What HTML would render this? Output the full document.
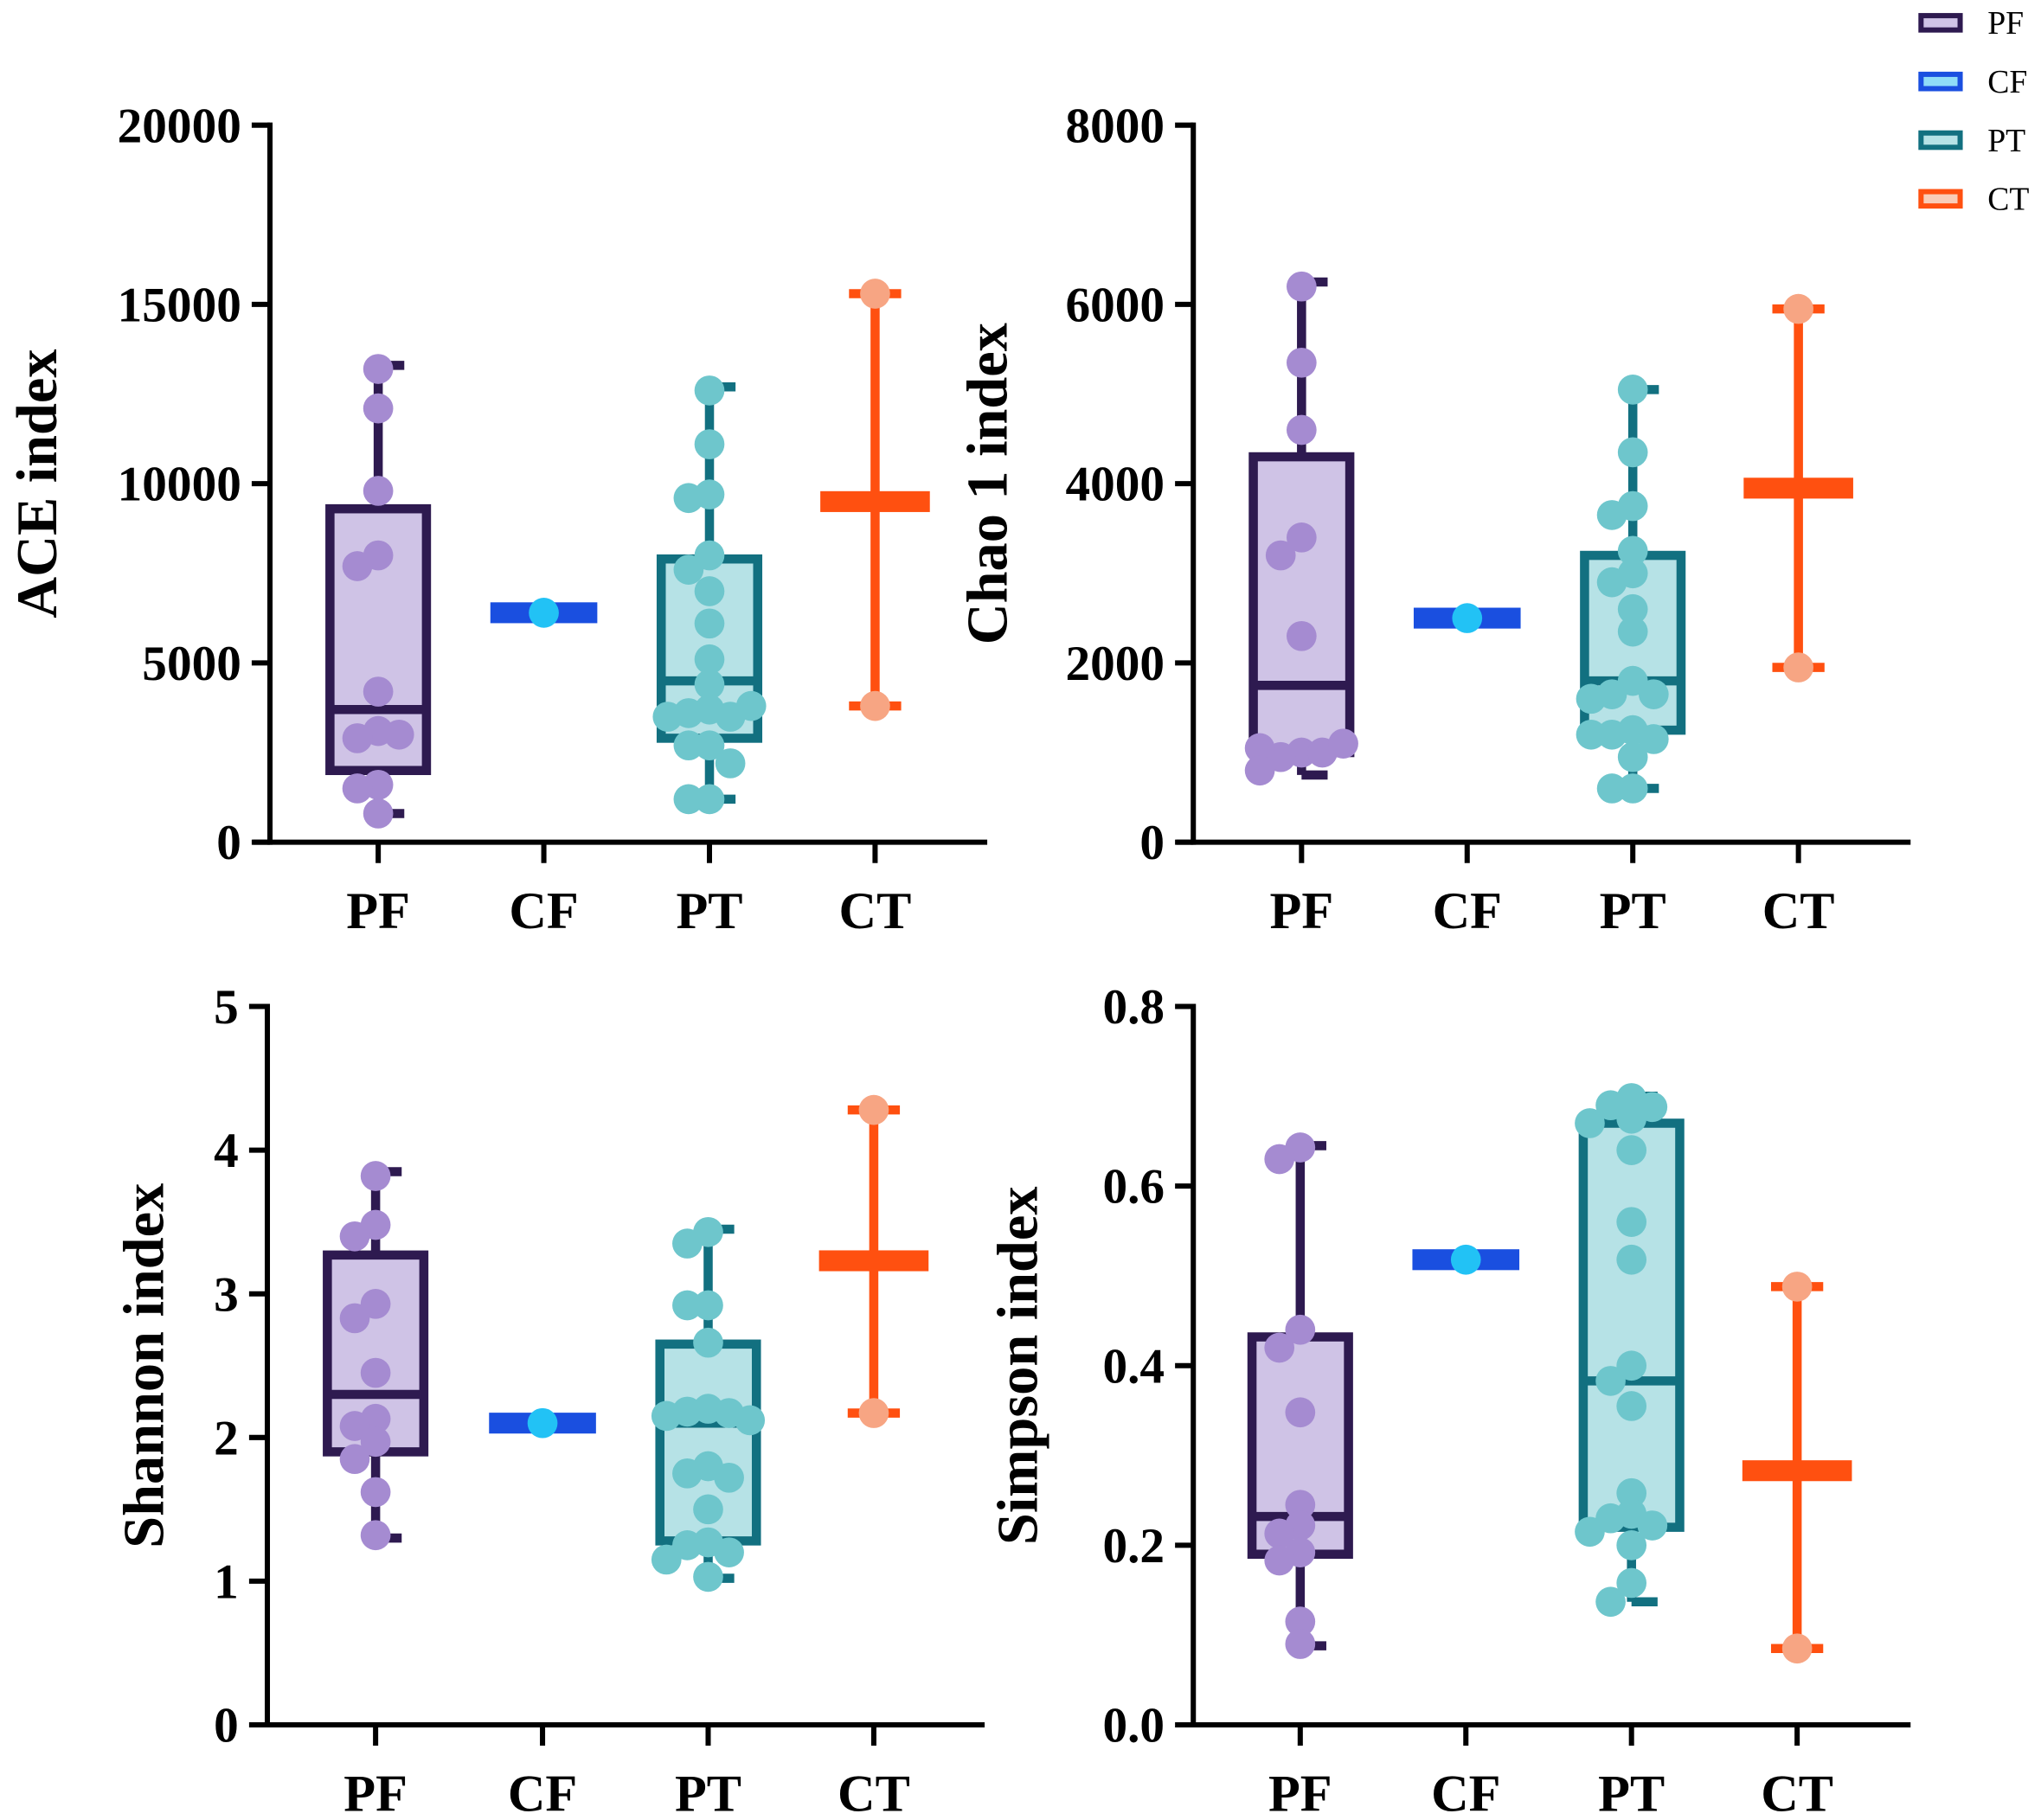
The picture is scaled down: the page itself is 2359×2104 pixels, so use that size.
<!DOCTYPE html>
<html><head><meta charset="utf-8"><style>
html,body{margin:0;padding:0;background:#fff;}
svg{display:block;}
text{font-family:"Liberation Serif","Times New Roman",serif;}
</style></head><body>
<svg id="chart" width="2359" height="2104" viewBox="0 0 1565 1396" preserveAspectRatio="none" xmlns="http://www.w3.org/2000/svg" font-family="Liberation Serif, serif">
<g id="legend"></g>
</svg>
<script>
// ---- data ----
const categories = ["PF","CF","PT","CT"];
const panelTitles = ["ACE index","Chao 1 index","Shannon index","Simpson index"];
const ticksACE = [0,5000,10000,15000,20000];
const ticksChao = [0,2000,4000,6000,8000];
const ticksShannon = [0,1,2,3,4,5];
const ticksSimpson = ["0.0","0.2","0.4","0.6","0.8"];
// box stats: [min, q1, median, q3, max]
const aceStats = [[800,2000,3700,9300,13300],[6400,6400,6400,6400,6400],[1200,2900,4500,7900,12700],[3800,9500,9500,9500,15300]];
const chaoStats = [[750,1000,1750,4300,6250],[2500,2500,2500,2500,2500],[600,1250,1800,3200,5050],[1950,3950,3950,3950,5950]];
const shannonStats = [[1.3,1.9,2.3,3.27,3.85],[2.1,2.1,2.1,2.1,2.1],[1.02,1.28,2.1,2.65,3.45],[2.17,3.23,3.23,3.23,4.28]];
const simpsonStats = [[0.088,0.19,0.232,0.432,0.645],[0.518,0.518,0.518,0.518,0.518],[0.137,0.22,0.383,0.67,0.70],[0.085,0.283,0.283,0.283,0.488]];
// raw points
const acePF = [13200,12100,9800,8000,7700,4200,3100,2900,3000,1600,1500,800];
const aceCF = [6400];
const acePT = [12600,11100,9700,9600,8000,7600,7000,6100,5100,4400,3700,3600,3500,3500,3800,2700,2700,2200,1200,1200];
const aceCT = [15300,3800];
const chaoPF = [6200,5350,4600,3400,3200,2300,1000,950,1000,1050,1100,800];
const chaoCF = [2500];
const chaoPT = [5050,4350,3750,3650,3250,3000,2900,2600,2350,1800,1650,1650,1600,1250,1200,1150,1200,950,600,600];
const chaoCT = [5950,1950];
const shannonPF = [3.82,3.48,3.4,2.93,2.83,2.45,2.13,2.08,1.97,1.85,1.62,1.32];
const shannonCF = [2.1];
const shannonPT = [3.43,3.35,2.92,2.92,2.66,2.2,2.18,2.17,2.15,2.12,1.8,1.75,1.72,1.5,1.27,1.25,1.2,1.15,1.03];
const shannonCT = [4.28,2.17];
const simpsonPF = [0.643,0.63,0.44,0.42,0.348,0.245,0.222,0.213,0.192,0.183,0.115,0.09];
const simpsonCF = [0.518];
const simpsonPT = [0.698,0.69,0.688,0.675,0.67,0.64,0.56,0.518,0.40,0.383,0.355,0.258,0.235,0.23,0.222,0.215,0.2,0.158,0.137];
const simpsonCT = [0.488,0.085];

// ---- styling ----
const stroke = ["#2e1a50","#1a4fe0","#127080","#ff5010"];
const fill = ["#cfc3e6","#8fdcf8","#b6e2e6","#f9cdb8"];
const ptCol = ["#a58bd1","#22c2f5","#6ec6cc","#f7a583"];
const NS = "http://www.w3.org/2000/svg";
const svg = document.getElementById("chart");
function mk(tag, attrs, parent){const e=document.createElementNS(NS,tag);for(const k in attrs)e.setAttribute(k,attrs[k]);(parent||svg).appendChild(e);return e;}

const panels = [
 {ax:207,top:96,bot:646,right:757,cats:[290,417,544,671],ymax:20000,ticks:ticksACE,stats:aceStats,pts:[acePF,aceCF,acePT,aceCT],titleX:28},
 {ax:915,top:96,bot:646,right:1465,cats:[998,1125,1252,1379],ymax:8000,ticks:ticksChao,stats:chaoStats,pts:[chaoPF,chaoCF,chaoPT,chaoCT],titleX:757},
 {ax:205,top:772,bot:1323,right:755,cats:[288,416,543,670],ymax:5,ticks:ticksShannon,stats:shannonStats,pts:[shannonPF,shannonCF,shannonPT,shannonCT],titleX:110},
 {ax:915,top:772,bot:1323,right:1465,cats:[997,1124,1251,1378],ymax:0.8,ticks:ticksSimpson,stats:simpsonStats,pts:[simpsonPF,simpsonCF,simpsonPT,simpsonCT],titleX:780}
];

function beeswarm(vals, y, r){
  const placed=[];const out=[];
  const cands=[0,-16,16,-32,32];
  vals.forEach(v=>{
    const py=y(v);
    let best=0,bestD=-1;
    for(const c of cands){
      const d=placed.length?Math.min(...placed.map(p=>Math.hypot(p[0]-c,p[1]-py))):1e9;
      if(d>=r*1.3){best=c;bestD=d;break;}
      if(d>bestD){bestD=d;best=c;}
    }
    placed.push([best,py]);out.push([best,py]);
  });
  return out;
}

panels.forEach((p,pi)=>{
  const g=mk("g",{});
  
  
  const y=v=>p.bot-(parseFloat(v)/p.ymax)*(p.bot-p.top);
  const ya=mk("line",{x1:p.ax,y1:p.top-2,x2:p.ax,y2:p.bot+2,stroke:"#000","stroke-width":4},g);
  
  
  const xa=mk("line",{x1:p.ax-13,y1:p.bot,x2:p.right,y2:p.bot,stroke:"#000","stroke-width":4},g);
  
  
  p.ticks.forEach(t=>{
    const ty=y(t);
    mk("line",{x1:p.ax-14,y1:ty,x2:p.ax,y2:ty,stroke:"#000","stroke-width":4},g);
    const tl=mk("text",{x:p.ax-22,y:ty+13,"text-anchor":"end","font-size":38,"font-weight":"bold"},g);
    tl.textContent=t;
    
    
  });
  const ty=mk("text",{x:0,y:0,"text-anchor":"middle","font-size":44,"font-weight":"bold",transform:`translate(${p.titleX+15},${(p.top+p.bot)/2}) rotate(-90)`},g);
  ty.textContent=panelTitles[pi];
  
  
  categories.forEach((c,ci)=>{
    const cx=p.cats[ci];
    mk("line",{x1:cx,y1:p.bot,x2:cx,y2:p.bot+16,stroke:"#000","stroke-width":4},g);
    const cl=mk("text",{x:cx,y:p.bot+66,"text-anchor":"middle","font-size":40,"font-weight":"bold"},g);
    cl.textContent=c;
    
    
    const s=p.stats[ci];
    const bg=mk("g",{},g);
    
    
    if(ci===1){
      mk("rect",{x:cx-41,y:y(s[2])-8,width:82,height:16,fill:stroke[ci]},bg);
    } else if(ci===3){
      mk("line",{x1:cx,y1:y(s[0]),x2:cx,y2:y(s[4]),stroke:stroke[ci],"stroke-width":7},bg);
      mk("line",{x1:cx-20,y1:y(s[0]),x2:cx+20,y2:y(s[0]),stroke:stroke[ci],"stroke-width":7},bg);
      mk("line",{x1:cx-20,y1:y(s[4]),x2:cx+20,y2:y(s[4]),stroke:stroke[ci],"stroke-width":7},bg);
      mk("rect",{x:cx-42,y:y(s[2])-8,width:84,height:16,fill:stroke[ci]},bg);
    } else {
      mk("line",{x1:cx,y1:y(s[0]),x2:cx,y2:y(s[4]),stroke:stroke[ci],"stroke-width":7},bg);
      mk("line",{x1:cx,y1:y(s[0]),x2:cx+20,y2:y(s[0]),stroke:stroke[ci],"stroke-width":7},bg);
      mk("line",{x1:cx,y1:y(s[4]),x2:cx+20,y2:y(s[4]),stroke:stroke[ci],"stroke-width":7},bg);
      mk("rect",{x:cx-37,y:y(s[3]),width:74,height:y(s[1])-y(s[3]),fill:fill[ci],stroke:stroke[ci],"stroke-width":7},bg);
      mk("line",{x1:cx-37,y1:y(s[2]),x2:cx+37,y2:y(s[2]),stroke:stroke[ci],"stroke-width":7},bg);
    }
    const pts=beeswarm(p.pts[ci],y,11.5);
    pts.forEach(pt=>{
      const c1=mk("circle",{cx:cx+pt[0],cy:pt[1],r:11.5,fill:ptCol[ci]},bg);
      
      
    });
  });
});

const lg=document.getElementById("legend");
categories.forEach((c,i)=>{
  const yy=17+i*45;
  const r=mk("rect",{x:1473,y:yy-5,width:30,height:11,fill:fill[i],stroke:stroke[i],"stroke-width":4},lg);
  
  
  const t=mk("text",{x:1524,y:yy+9,"font-size":25},lg);
  t.textContent=c;
  
  
});
</script>
</body></html>
